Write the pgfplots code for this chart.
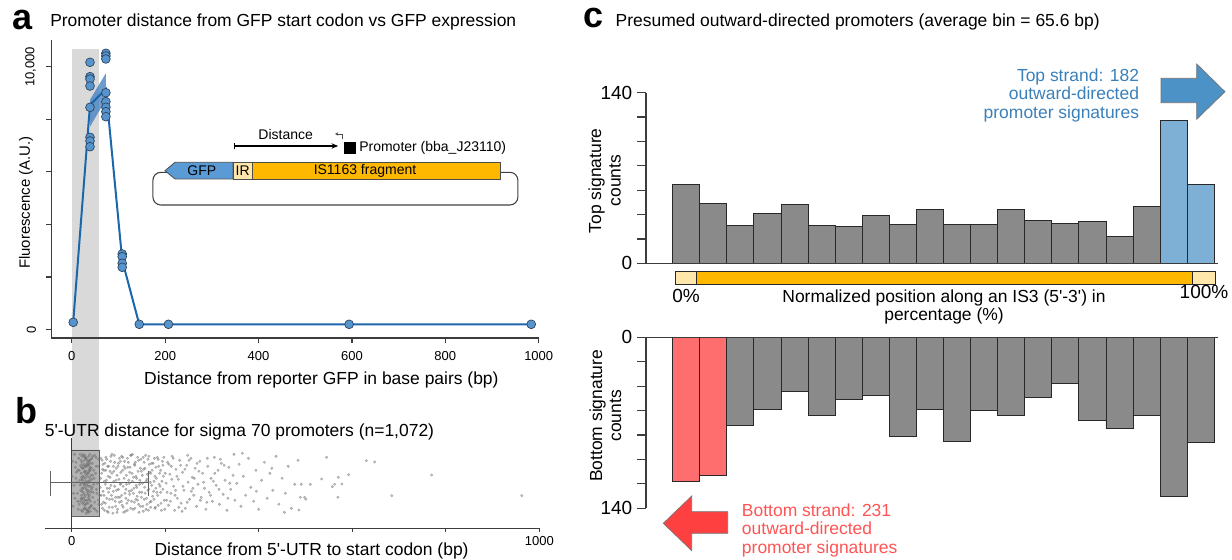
\documentclass[border=0pt]{standalone}
\usepackage{pgfplots}
\pgfplotsset{compat=1.18}
\usepackage{fontspec}
\setmainfont{Liberation Sans}
\usetikzlibrary{arrows.meta}
\definecolor{axiscol}{RGB}{60,60,60}
\definecolor{bandgray}{RGB}{217,217,217}
\definecolor{ptfill}{RGB}{86,148,205}
\definecolor{ptedge}{RGB}{45,65,90}
\definecolor{linecol}{RGB}{28,102,172}
\definecolor{cicol}{RGB}{62,125,192}
\definecolor{bargray}{RGB}{138,138,138}
\definecolor{baredge}{RGB}{40,40,40}
\definecolor{barblue}{RGB}{126,176,213}
\definecolor{barred}{RGB}{255,110,110}
\definecolor{arrblue}{RGB}{76,146,198}
\definecolor{arrred}{RGB}{255,64,64}
\definecolor{txtblue}{RGB}{58,128,186}
\definecolor{txtred}{RGB}{255,84,84}
\definecolor{isorange}{RGB}{255,184,0}
\definecolor{islight}{RGB}{255,230,170}
\definecolor{gfpcol}{RGB}{91,155,213}
\definecolor{dotgray}{RGB}{110,110,110}
\newcommand\ttl{\fontsize{13.1pt}{15.7pt}\selectfont}
\newcommand\tka{\fontsize{9.75pt}{11pt}\selectfont}
\newcommand\tkc{\fontsize{14.25pt}{16pt}\selectfont}
\newcommand\ins{\fontsize{10.5pt}{12pt}\selectfont}
\newcommand\flab{\fontsize{11.2pt}{13pt}\selectfont}
\newcommand\panl{\fontsize{27pt}{29pt}\selectfont\bfseries}
\begin{document}
\begin{tikzpicture}
\useasboundingbox (0,0) rectangle (924pt,420pt);
% shared shaded band (distance 0-58 bp)
\begin{scope}[x=0.75pt,y=-0.75pt,shift={(0pt,420pt)}]
  \fill[bandgray] (71.8,49) rectangle (99.2,450);
\end{scope}

% ---------------- panel a ----------------
\begin{axis}[
  at={(38.33pt,166.5pt)}, anchor=south west, scale only axis,
  width=365.7pt, height=223.5pt,
  xmin=-44.3, xmax=1000, ymin=-315.6, ymax=11015,
  axis x line=bottom, axis y line=left,
  axis line style={-, draw=axiscol, line width=0.9pt},
  tick style={draw=axiscol, line width=0.9pt},
  tick align=outside, major tick length=3.75pt,
  scaled x ticks=false, scaled y ticks=false,
  xtick={0,200,400,600,800,1000},
  xticklabels={0,200,400,600,800,1000},
  ytick={0,2000,4000,6000,8000,10000},
  yticklabels={0,,,,,{10,000}},
  x tick label style={font=\tka},
  y tick label style={font=\tka, rotate=90, anchor=south},
  xticklabel shift=3pt, yticklabel shift=4pt,
  /pgf/number format/assume math mode=true,
  clip=false,
]
\addplot[fill=cicol, fill opacity=0.75, draw=none] coordinates {(39,7720) (73,8745) (73,9750) (39,8745) (39,7720)};
\addplot[linecol, line width=1.5pt] coordinates {(3,281) (39,8550) (73,9150) (108,2640) (144.5,205) (207,205) (594,205) (984,205)};
\addplot[only marks, mark=*, mark size=3.3pt, mark options={fill=ptfill, draw=ptedge, line width=0.5pt}] coordinates {
 (3,281)
 (39,10167) (39,9620) (39,9530) (39,9265) (39,8456) (39,7315) (39,7175) (39,6958)
 (73,10510) (73,10407) (73,10293) (73,9011) (73,8669) (73,8456) (73,8289) (73,8099)
 (108,2878) (108,2776) (108,2525) (108,2372)
 (144.5,205) (207,205) (594,205) (984,205)};
\end{axis}

% ---------------- panel b ----------------
\begin{axis}[
  at={(33.75pt,23.78pt)}, anchor=south west, scale only axis,
  width=371.25pt, height=67.5pt,
  xmin=-57.1, xmax=1001.5, ymin=0, ymax=90,
  axis x line=bottom, axis y line=none,
  axis line style={-, draw=axiscol, line width=0.9pt},
  tick style={draw=axiscol, line width=0.9pt},
  tick align=outside, major tick length=2.5pt,
  scaled x ticks=false,
  xtick={0,200,400,600,800,1000},
  xticklabels={0,,,,,1000},
  ytick=\empty,
  x tick label style={font=\tka},
  /pgf/number format/assume math mode=true,
  clip=false,
]
\addplot[draw=axiscol, line width=0.9pt] coordinates {(0,0) (0,90)};
\addplot[fill=gray, fill opacity=0.6, draw=axiscol, draw opacity=0.8, line width=0.7pt] coordinates {(0,12.3) (59,12.3) (59,78.3) (0,78.3) (0,12.3)};
\addplot[only marks, mark=*, mark size=0.95pt, mark options={fill=dotgray, fill opacity=0.4, draw=dotgray, draw opacity=0.5, line width=0.3pt}] coordinates {
(3,22) (8,61) (12,35) (15,70) (17,48) (19,27) (20,55) (21,18) (22,66) (23,40) (24,30) (25,72) (26,51) (27,20) (28,44) (29,62) (30,33) (31,57) (32,25) (33,68) (34,38) (35,47) (36,16) (37,59) (38,29) (39,74) (40,42) (41,53) (42,23) (44,65) (46,36) (48,50) (50,19) (52,71) (55,45) (57,28) (5,43) (10,56) (14,19) (18,74) (21,33) (23,60) (25,26) (27,68) (29,41) (31,15) (33,52) (35,64) (37,37) (39,21) (41,69) (43,49) (45,31) (47,58) (49,73) (53,39) (56,62) (58,24) (2,67) (7,30) (11,46) (16,58) (19,38) (22,49) (24,74) (26,34) (28,23) (30,70) (32,45) (34,18) (36,63) (38,51) (40,27) (42,60) (45,72) (51,55) (54,17) (13,27) (20,45) (27,56) (34,28) (36,72) (24,52) (30,20) (22,29) (33,62) (29,50) (38,68) (26,43) (31,39) (35,25) (23,17) (28,73) (37,46) (39,58) (9,50) (44,41) (47,20) (1,52) (6,74) (60,33)
(4,35) (9,66) (13,58) (16,24) (18,43) (20,68) (21,51) (22,37) (23,25) (24,63) (25,45) (26,19) (27,31) (28,57) (29,71) (30,47) (31,28) (32,64) (33,36) (34,55) (35,17) (36,42) (37,67) (38,33) (39,48) (40,61) (41,22) (42,39) (43,70) (45,53) (47,44) (49,26) (52,62) (54,35) (57,69) (20,30) (22,72) (24,40) (26,60) (28,28) (30,54) (32,18) (34,66) (36,31) (38,57) (40,17) (25,36) (27,64) (29,24) (31,70) (33,43) (35,55) (37,20) (39,65) (21,61) (23,48) (35,34) (19,63) (41,36) (30,62)
(62,50) (64,24) (65,68) (67,37) (69,58) (70,18) (72,44) (73,71) (75,30) (77,62) (78,52) (80,21) (81,40) (83,67) (85,33) (86,55) (88,15) (90,47) (91,73) (93,27) (95,60) (96,38) (98,19) (100,65) (101,49) (103,31) (105,56) (107,72) (108,23) (110,42) (112,62) (114,35) (115,17) (117,53) (119,70) (121,28) (123,45) (125,61) (126,20) (128,38) (130,74) (132,51) (134,26) (136,66) (138,43) (140,32) (142,57) (144,16) (146,48) (148,69) (150,36) (152,22) (154,59) (156,41) (158,73) (160,30) (162,54) (164,18) (166,64) (168,46) (170,27) (172,58) (175,37) (177,70) (179,21) (181,50) (184,33) (186,62) (189,42) (191,25) (194,67) (196,52) (199,19)
(63,33) (66,59) (68,26) (71,65) (74,48) (76,17) (79,36) (82,57) (84,72) (87,29) (89,62) (92,42) (94,22) (97,53) (99,31) (102,70) (104,44) (106,27) (109,58) (111,16) (113,67) (116,39) (118,25) (120,61) (122,48) (124,34) (127,73) (129,55) (131,19) (133,40) (135,63) (137,29) (139,50) (141,71) (143,24) (145,44) (147,60) (149,31) (151,53) (153,17) (155,66) (157,35) (159,47) (161,24) (163,69) (165,39) (167,56) (169,21) (171,43) (174,65) (176,29) (178,52) (180,40) (183,71) (185,23) (188,55) (190,36) (193,47) (195,63) (198,28)
(61,41) (62,70) (64,55) (66,20) (67,64) (69,33) (70,47) (72,25) (73,58) (75,69) (76,40) (78,16) (79,62) (81,29) (82,51) (84,43) (86,74) (87,21) (89,37) (90,57) (92,66) (94,31) (95,48) (97,16) (99,62) (100,39) (102,26) (104,67) (105,45) (107,33) (109,71) (110,21) (112,50) (114,60) (116,30) (117,44) (119,18) (121,66) (123,37) (124,56) (126,73) (128,27) (130,47) (132,35) (134,64) (135,20) (137,52) (139,41) (141,28) (143,68) (145,36) (147,22) (149,57) (151,45) (153,71) (155,29) (157,60) (159,19) (161,49) (163,38) (165,72) (167,26) (169,55) (171,65) (173,32) (176,47) (178,20) (180,61) (182,36) (185,69) (187,44) (190,58) (192,18) (195,39) (197,71) (200,55)
(202,45) (205,66) (207,23) (210,54) (212,35) (215,72) (218,42) (220,18) (223,59) (226,30) (228,49) (231,68) (234,25) (237,56) (240,38) (243,20) (246,63) (249,46) (252,29) (255,70) (258,51) (261,33) (264,60) (267,22) (270,44) (274,67) (277,31) (280,55) (284,40) (287,19) (291,62) (294,36) (298,50) (301,27) (305,71) (309,43) (313,58) (316,24) (320,65) (324,34) (328,48) (332,18) (336,61) (340,39) (345,53) (349,28) (203,28) (213,62) (222,38) (236,17) (248,73) (259,40) (272,57) (289,26) (303,47) (318,69) (334,30) (347,74)
(204,36) (208,64) (211,27) (214,49) (217,70) (221,33) (225,52) (229,21) (233,63) (238,42) (242,59) (247,26) (251,68) (256,37) (262,50) (268,65) (275,28) (282,46) (290,70) (297,33) (306,55) (315,39) (326,63) (338,45)
(353,45) (358,64) (362,22) (367,52) (372,33) (378,70) (383,41) (389,27) (394,58) (400,19) (406,48) (412,66) (418,30) (424,55) (430,38) (437,72) (443,24) (450,50) (457,35) (463,62) (470,20) (477,44) (484,68) (489,31) (365,75) (395,37) (428,60) (455,16)
(485.7,18.3) (490.9,44) (498,31) (500.8,29) (510.2,44) (534.4,49.3) (545.1,71) (557.3,41.6) (562.3,44) (570.2,51) (569.3,31) (577.9,44.3) (592.3,53.6) (630.2,67.6) (648,66.3) (684.5,32.6) (769.6,53.3) (962.5,32.6)};
\addplot[draw=axiscol!80, line width=0.9pt] coordinates {(-45,45.6) (164,45.6)};
\addplot[draw=axiscol!80, line width=0.9pt] coordinates {(-45,32.3) (-45,57.6)};
\addplot[draw=axiscol!80, line width=0.9pt] coordinates {(164,32.3) (164,57.6)};
\end{axis}

% ---------------- panel c top ----------------
\begin{axis}[
  at={(484.5pt,222.53pt)}, anchor=south west, scale only axis,
  width=429pt, height=127.95pt,
  xmin=-0.486, xmax=20.637, ymin=0, ymax=140,
  axis x line=none, axis y line=left,
  axis line style={-, draw=axiscol, line width=0.9pt},
  tick style={draw=axiscol, line width=0.9pt},
  tick align=outside, major tick length=6.75pt,
  xtick=\empty,
  ytick={0,20,40,60,80,100,120,140},
  yticklabels={0,,,,,,,140},
  y tick label style={font=\tkc},
  /pgf/number format/assume math mode=true,
  clip=false,
]
\addplot[ybar, bar width=1, bar shift=0pt, fill=bargray, draw=baredge, line width=0.7pt] coordinates {
 (1,65) (2,49) (3,31) (4,41) (5,48) (6,31) (7,30) (8,39) (9,32) (10,44) (11,32) (12,32) (13,44) (14,35) (15,33) (16,34) (17,22) (18,47)};
\addplot[ybar, bar width=1, bar shift=0pt, fill=barblue, draw=baredge, line width=0.7pt] coordinates {(19,117) (20,65)};
\draw[axiscol, line width=0.9pt] (axis cs:-0.486,0) -- (axis cs:20.637,0);
\end{axis}

% ---------------- panel c bottom ----------------
\begin{axis}[
  at={(484.5pt,38.78pt)}, anchor=south west, scale only axis,
  width=429pt, height=128.25pt,
  xmin=-0.486, xmax=20.637, ymin=0, ymax=140, y dir=reverse,
  axis x line=none, axis y line=left,
  axis line style={-, draw=axiscol, line width=0.9pt},
  tick style={draw=axiscol, line width=0.9pt},
  tick align=outside, major tick length=6.75pt,
  xtick=\empty,
  ytick={0,20,40,60,80,100,120,140},
  yticklabels={0,,,,,,,140},
  y tick label style={font=\tkc},
  /pgf/number format/assume math mode=true,
  clip=false,
]
\addplot[ybar, bar width=1, bar shift=0pt, fill=barred, draw=baredge, line width=0.7pt] coordinates {(1,118) (2,113)};
\addplot[ybar, bar width=1, bar shift=0pt, fill=bargray, draw=baredge, line width=0.7pt] coordinates {
 (3,72) (4,59) (5,44) (6,64) (7,51) (8,48) (9,81) (10,59) (11,85) (12,60) (13,64) (14,49) (15,38) (16,68) (17,75) (18,64) (19,130) (20,86)};
\draw[axiscol, line width=0.9pt] (axis cs:-0.486,0) -- (axis cs:20.637,0);
\end{axis}

% ---------------- texts and drawings (pixel coordinates) ----------------
\begin{scope}[x=0.75pt,y=-0.75pt,shift={(0pt,420pt)}]
 % panel letters and titles
 \node[anchor=base west, inner sep=0] at (12,29.3) {\panl a};
 \node[anchor=base west, inner sep=0] at (50,27) {\ttl Promoter distance from GFP start codon vs GFP expression};
 \node[anchor=base west, inner sep=0] at (15,423.3) {\panl b};
 \node[anchor=base west, inner sep=0] at (44.6,436.5) {\ttl 5\textquotesingle-UTR distance for sigma 70 promoters (n=1,072)};
 \node[anchor=base west, inner sep=0] at (583,27.5) {\panl c};
 \node[anchor=base west, inner sep=0] at (615.4,27) {\ttl Presumed outward-directed promoters (average bin = 65.6 bp)};
 % axis labels panel a / b
 \node[anchor=base, inner sep=0] at (321.4,385) {\ttl Distance from reporter GFP in base pairs (bp)};
 \node[rotate=90, inner sep=0] at (26,202.5) {\flab Fluorescence (A.U.)};
 \node[anchor=base, inner sep=0] at (311.6,556) {\ttl Distance from 5\textquotesingle-UTR to start codon (bp)};
 % panel c labels
 \node[rotate=90, inner sep=0] at (596.7,180.7) {\ttl Top signature};
 \node[rotate=90, inner sep=0] at (615,180.7) {\ttl counts};
 \node[rotate=90, inner sep=0] at (597.5,415.8) {\ttl Bottom signature};
 \node[rotate=90, inner sep=0] at (615.5,415.8) {\ttl counts};
 % IS3 bar
 \draw[baredge, line width=0.7pt, fill=islight] (675,271.7) rectangle (1215,284);
 \draw[baredge, line width=0.7pt, fill=isorange] (696.7,271.7) rectangle (1192.7,284);
 \node[anchor=base, inner sep=0] at (686,303) {\tkc 0\%};
 \node[anchor=base, inner sep=0] at (1204,298.5) {\tkc 100\%};
 \node[anchor=base, inner sep=0] at (944,303) {\ttl Normalized position along an IS3 (5\textquotesingle-3\textquotesingle) in};
 \node[anchor=base, inner sep=0] at (944,320.5) {\ttl percentage (\%)};
 % blue arrow and text
 \draw[fill=arrblue, draw=black!55, line width=0.5pt] (1161,78.3) -- (1196.7,78.3) -- (1196.7,64) -- (1225,91.7) -- (1196.7,119.3) -- (1196.7,102.7) -- (1161,102.7) -- cycle;
 \node[anchor=base east, inner sep=0, text=txtblue] at (1139.3,81.7) {\ttl Top strand: 182};
 \node[anchor=base east, inner sep=0, text=txtblue] at (1139.3,100) {\ttl outward-directed};
 \node[anchor=base east, inner sep=0, text=txtblue] at (1139.3,118.3) {\ttl promoter signatures};
 % red arrow and text
 \draw[fill=arrred, draw=black!55, line width=0.5pt] (727.7,511.7) -- (691.7,511.7) -- (691.7,496) -- (663.3,523.3) -- (691.7,550.7) -- (691.7,533.3) -- (727.7,533.3) -- cycle;
 \node[anchor=base west, inner sep=0, text=txtred] at (741.7,516.7) {\ttl Bottom strand: 231};
 \node[anchor=base west, inner sep=0, text=txtred] at (741.7,535) {\ttl outward-directed};
 \node[anchor=base west, inner sep=0, text=txtred] at (741.7,553.3) {\ttl promoter signatures};
 % inset construct diagram
 \draw[rounded corners=6pt, line width=0.8pt, draw=black!75] (152.9,172.3) rectangle (517.9,205);
 \draw[fill=gfpcol, draw=black!70, line width=0.6pt] (232.9,162.3) -- (175,162.3) -- (165,170.7) -- (175,179) -- (232.9,179) -- cycle;
 \node[inner sep=0] at (201.8,170.7) {\ins GFP};
 \draw[fill=islight, draw=black!70, line width=0.6pt] (232.9,162.3) rectangle (252.5,179);
 \node[inner sep=0] at (242.7,170.7) {\ins IR};
 \draw[fill=isorange, draw=black!70, line width=0.6pt] (252.5,162.3) rectangle (500.7,179);
 \node[inner sep=0] at (365,170.7) {\ins IS1163 fragment};
 \draw[line width=1pt, {Bar[width=5pt]}-{Stealth[length=5pt,width=4pt]}] (233.9,146) -- (338.2,146);
 \node[anchor=base, inner sep=0] at (285.7,140) {\ins Distance};
 \fill (343.9,141.7) rectangle (356,154);
 \draw[black!70, line width=0.5pt, -{Stealth[length=2.5pt,width=2.5pt]}] (342,139.5) -- (342,134) -- (335,134);
 \node[anchor=west, inner sep=0] at (359,147.8) {\ins Promoter (bba\_J23110)};
\end{scope}
\end{tikzpicture}
\end{document}
